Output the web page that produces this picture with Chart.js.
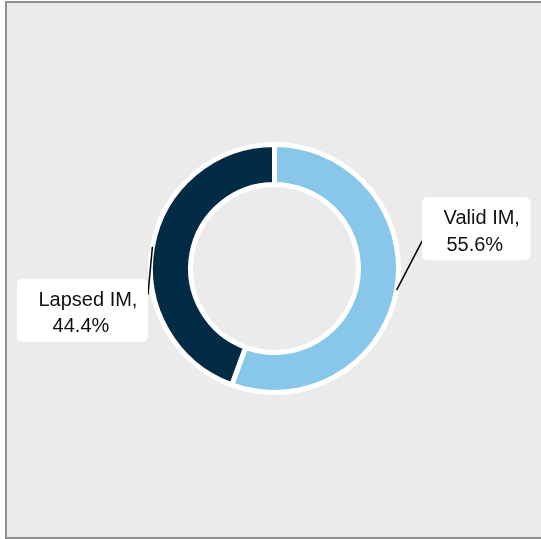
<!DOCTYPE html>
<html>
<head>
<meta charset="utf-8">
<script src="https://cdn.jsdelivr.net/npm/chart.js@4"></script>
<style>
  html, body { margin: 0; padding: 0; background: #ffffff; }
  #frame {
    position: absolute; left: 5px; top: 1px; width: 545px; height: 538px;
    box-sizing: border-box; border: 2px solid #8f8f8f; background: #ebebeb;
  }
  #wrap { position: absolute; left: 0; top: 0; width: 541px; height: 539px; }
</style>
</head>
<body>
<div id="frame"></div>
<div id="wrap"><canvas id="myChart"></canvas></div>
<script>
const categories = ["Valid IM", "Lapsed IM"];
const shares = [55.6, 44.4];
const sliceColors = ["#88c6ea", "#022b45"];

// label boxes: offset of box from the slice anchor, and where the leader line meets the box
const labelPlacement = [
  { dx: 25.5, dy: -93, side: "left", lineY: 44 },
  { dx: -4.5, dy: 32, side: "right", lineY: 16 },
];

const calloutLabels = {
  id: "calloutLabels",
  afterDatasetsDraw(chart) {
    const ctx = chart.ctx;
    const meta = chart.getDatasetMeta(0);
    ctx.save();
    ctx.font = "20px 'Liberation Sans', Arial, sans-serif";
    meta.data.forEach((arc, i) => {
      const mid = (arc.startAngle + arc.endAngle) / 2;
      const ax = arc.x + Math.cos(mid) * arc.outerRadius;
      const ay = arc.y + Math.sin(mid) * arc.outerRadius;
      const p = labelPlacement[i];
      const line1 = categories[i] + ",";
      const line2 = shares[i].toFixed(1) + "%";
      const w = ctx.measureText(line1).width + 32;
      const h = 63;
      const left = p.side === "left" ? ax + p.dx : ax + p.dx - w;
      const top = ay + p.dy;

      // leader line
      ctx.strokeStyle = "#000000";
      ctx.lineWidth = 1.5;
      ctx.beginPath();
      ctx.moveTo(ax, ay);
      ctx.lineTo(p.side === "left" ? left : left + w, top + p.lineY);
      ctx.stroke();

      // box
      ctx.fillStyle = "#ffffff";
      ctx.beginPath();
      ctx.roundRect(left, top, w, h, 5);
      ctx.fill();

      // text
      ctx.fillStyle = "#111111";
      ctx.textAlign = "center";
      ctx.textBaseline = "alphabetic";
      ctx.fillText(line1, left + w / 2 + 5.5, top + 27);
      ctx.fillText(line2, left + w / 2 - 1.5, top + 53.5);
    });
    ctx.restore();
  },
};

const ctx = document.getElementById("myChart").getContext("2d");
new Chart(ctx, {
  type: "doughnut",
  data: {
    labels: categories,
    datasets: [
      {
        data: shares,
        backgroundColor: sliceColors,
        borderColor: "#ffffff",
        borderWidth: 5,
        hoverOffset: 0,
      },
    ],
  },
  options: {
    responsive: true,
    maintainAspectRatio: false,
    animation: false,
    radius: 124,
    cutout: "67.7%",
    layout: { padding: { left: 8, right: 0, top: 0, bottom: 2 } },
    plugins: {
      legend: { display: false },
      tooltip: { enabled: false },
    },
  },
  plugins: [calloutLabels],
});
</script>
</body>
</html>
